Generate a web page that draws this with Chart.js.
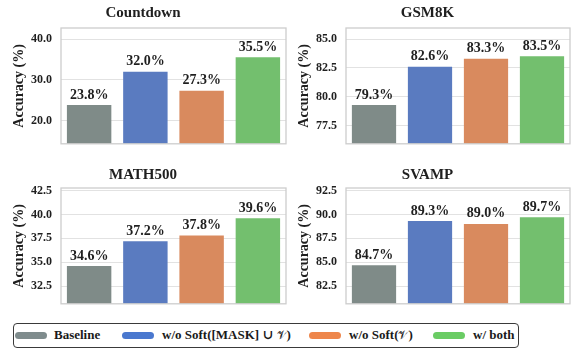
<!DOCTYPE html>
<html>
<head>
<meta charset="utf-8">
<script src="https://cdn.jsdelivr.net/npm/chart.js@4/dist/chart.umd.min.js"></script>
<style>
  html, body { margin: 0; padding: 0; background: #ffffff; }
  #wrap { position: relative; width: 574px; height: 350px; overflow: hidden; }
  canvas { position: absolute; }
  #legend {
    position: absolute; left: 13px; top: 323px; width: 506px; height: 25px;
    box-sizing: border-box; border: 1px solid #3a3a3a; border-radius: 4px;
    font-family: "Liberation Serif", "Times New Roman", "DejaVu Serif", serif;
    font-weight: bold; font-size: 13px; color: #1a1a1a;
  }
  .sw { position: absolute; top: 7.5px; width: 32px; height: 7px; border-radius: 3.5px; }
  .lt { position: absolute; top: 3px; line-height: 16px; white-space: nowrap; }
  .lt .v { font-family: "DejaVu Serif", "DejaVu Sans", serif; font-weight: normal; font-size: 12px; }
</style>
</head>
<body>
<div id="wrap">
  <canvas id="c1" width="290" height="160" style="left:0;top:0"></canvas>
  <canvas id="c2" width="289" height="160" style="left:285px;top:0"></canvas>
  <canvas id="c3" width="290" height="160" style="left:0;top:160px"></canvas>
  <canvas id="c4" width="289" height="160" style="left:285px;top:160px"></canvas>
  <div id="legend"></div>
</div>
<script>
// Ablation variants (one bar each per benchmark)
const methods = ['Baseline', 'w/o Soft([MASK] \u222A \uD835\uDCB1)', 'w/o Soft(\uD835\uDCB1)', 'w/ both'];

// Accuracy (%) per benchmark, in the order of `methods`
const countdownAcc = [23.8, 32.0, 27.3, 35.5];
const gsm8kAcc     = [79.3, 82.6, 83.3, 83.5];
const math500Acc   = [34.6, 37.2, 37.8, 39.6];
const svampAcc     = [84.7, 89.3, 89.0, 89.7];

// Y-axis tick values per benchmark
const countdownTicks = [20, 30, 40];
const gsm8kTicks     = [77.5, 80, 82.5, 85];
const math500Ticks   = [32.5, 35, 37.5, 40, 42.5];
const svampTicks     = [82.5, 85, 87.5, 90, 92.5];

const barColors    = ['#7f8b88', '#5a7bc0', '#d98a5e', '#73bf6e'];
const legendColors = ['#7f8c8d', '#4a78cf', '#ee864b', '#6acc64'];

const SERIF = '"Liberation Serif", "Times New Roman", serif';
const TEXT = '#1f1f1f';

// Frame around the plotting area
const frame = {
  id: 'frame',
  afterDraw(chart) {
    const { ctx, chartArea: a } = chart;
    ctx.save();
    ctx.strokeStyle = '#cdcdcd';
    ctx.lineWidth = 1.3;
    ctx.strokeRect(a.left, a.top, a.right - a.left, a.bottom - a.top);
    ctx.restore();
  }
};

// Percentage labels above each bar
const valueLabels = {
  id: 'valueLabels',
  afterDatasetsDraw(chart) {
    const { ctx } = chart;
    const ds = chart.data.datasets[0];
    const meta = chart.getDatasetMeta(0);
    ctx.save();
    ctx.font = 'bold 14px ' + SERIF;
    ctx.fillStyle = TEXT;
    ctx.textAlign = 'center';
    ctx.textBaseline = 'alphabetic';
    meta.data.forEach((bar, i) => {
      ctx.fillText(ds.data[i].toFixed(1) + '%', bar.x, bar.y - 6.5);
    });
    ctx.restore();
  }
};

function panel(id, title, values, ticks, yMin, yMax, titlePad) {
  return new Chart(document.getElementById(id), {
    type: 'bar',
    data: {
      labels: methods,
      datasets: [{
        data: values,
        backgroundColor: barColors,
        borderWidth: 0,
        barPercentage: 0.79,
        categoryPercentage: 1.0
      }]
    },
    options: {
      responsive: false,
      animation: false,
      devicePixelRatio: 1,
      layout: { padding: { left: 0, right: 4, top: 0, bottom: 4 } },
      plugins: {
        legend: { display: false },
        tooltip: { enabled: false },
        title: {
          display: true,
          text: title,
          color: TEXT,
          font: { family: SERIF, size: 15, weight: 'bold', lineHeight: 1.2 },
          padding: titlePad
        }
      },
      scales: {
        x: { display: false },
        y: {
          min: yMin,
          max: yMax,
          afterBuildTicks(scale) { scale.ticks = ticks.map(v => ({ value: v })); },
          afterFit(scale) { scale.width = 61; },
          ticks: {
            padding: 9,
            color: TEXT,
            font: { family: SERIF, size: 12, weight: 'bold' },
            callback: v => Number(v).toFixed(1)
          },
          grid: { color: '#e2e2e2', lineWidth: 1, drawTicks: false },
          border: { display: false },
          title: {
            display: true,
            text: 'Accuracy (%)',
            color: TEXT,
            font: { family: SERIF, size: 14, weight: 'bold', lineHeight: 1.2 },
            padding: { top: 11, bottom: 0 }
          }
        }
      }
    },
    plugins: [frame, valueLabels]
  });
}

panel('c1', 'Countdown', countdownAcc, countdownTicks, 14.3, 42.7, { top: 4, bottom: 6 });
panel('c2', 'GSM8K',     gsm8kAcc,     gsm8kTicks,     75.95, 85.95, { top: 4, bottom: 6 });
panel('c3', 'MATH500',   math500Acc,   math500Ticks,   30.66, 42.76, { top: 6, bottom: 4 });
panel('c4', 'SVAMP',     svampAcc,     svampTicks,     80.66, 92.76, { top: 6, bottom: 4 });

// Shared legend below the panels
const legend = document.getElementById('legend');
const swatchX = [1, 108, 295, 419];
const textX = [40, 148, 335, 459];
methods.forEach((name, i) => {
  const sw = document.createElement('div');
  sw.className = 'sw';
  sw.style.left = swatchX[i] + 'px';
  sw.style.background = legendColors[i];
  legend.appendChild(sw);
  const t = document.createElement('div');
  t.className = 'lt';
  t.style.left = textX[i] + 'px';
  t.innerHTML = name.replace(/\uD835\uDCB1/g, '<span class="v">\uD835\uDCB1</span>');
  legend.appendChild(t);
});
</script>
</body>
</html>
